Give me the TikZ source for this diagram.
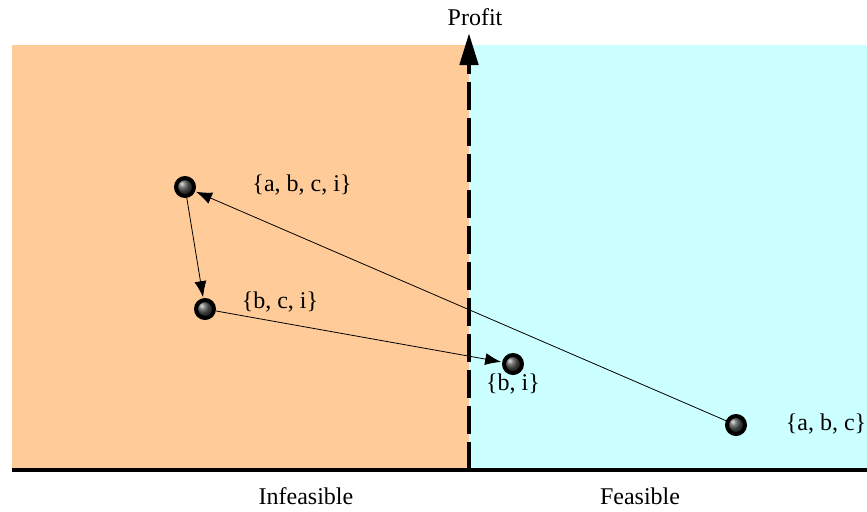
\documentclass[tikz,border=0pt]{standalone}
\usepackage{fontspec}
\setmainfont{Liberation Serif}
\usetikzlibrary{arrows.meta,positioning,calc}
\definecolor{infeas}{RGB}{255,204,153}
\definecolor{feas}{RGB}{204,255,255}

\begin{document}
\begin{tikzpicture}[x=0.5pt, y=-0.5pt,
  ball/.style={circle, draw=black, line width=2pt, inner sep=0pt, minimum size=9pt, shading=ball, ball color=gray!60!black},
  lbl/.style={font=\fontsize{12}{14}\selectfont, inner sep=1pt},
  arrow/.style={-{Latex[length=8pt,width=6pt]}, thin, shorten >=0.5pt}]
\useasboundingbox (0,0) rectangle (867,511);
% regions
\fill[infeas] (12,45) rectangle (469,470);
\fill[feas] (469,45) rectangle (867,470);
% axes
\coordinate (O) at (469,470);
\coordinate (top) at (469,33);
\draw[line width=1.6pt] (12,470) -- (867,470);
\draw[line width=2.4pt, dash pattern=on 14pt off 4pt, -{Triangle[length=16pt,width=9pt]}] (O) -- (top);
\node[lbl] (profit) at (475,17) {Profit};
\node[lbl] (infL) at (306,496) {Infeasible};
\node[lbl] (feaL) at (640,496) {Feasible};
% solutions
\node[ball] (abci) at (185,187) {};
\node[ball] (bci) at (205,309) {};
\node[ball] (bi) at (513,364) {};
\node[ball] (abc) at (736,425) {};
\node[lbl] (abciT) at (302,185) {\{a, b, c, i\}};
\node[lbl] (bciT) at (280,302) {\{b, c, i\}};
\node[lbl] (biT) at (513,384) {\{b, i\}};
\node[lbl] (abcT) at (826,424) {\{a, b, c\}};
% moves
\draw[arrow] (abc) -- (abci);
\draw[arrow] (abci) -- (bci);
\draw[arrow] (bci) -- (bi);
\end{tikzpicture}
\end{document}
